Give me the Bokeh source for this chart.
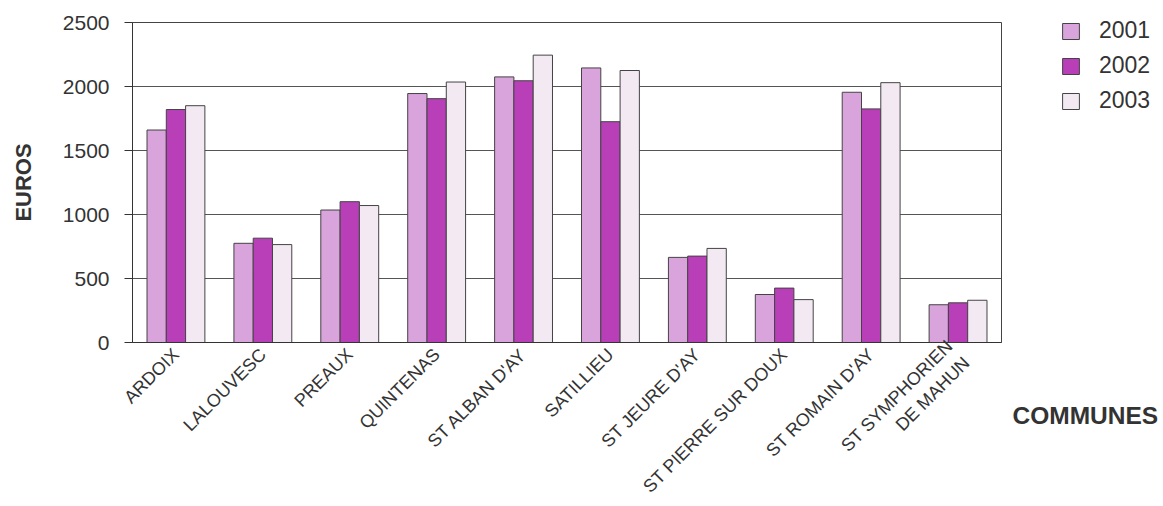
import math
from bokeh.plotting import figure
from bokeh.layouts import row
from bokeh.models import (ColumnDataSource, FactorRange, Range1d, Legend, LegendItem,
                          Label, SingleIntervalTicker)
from bokeh.transform import dodge
from bokeh.embed import file_html
from bokeh.resources import INLINE

communes = ["ARDOIX", "LALOUVESC", "PREAUX", "QUINTENAS", "ST ALBAN D'AY", "SATILLIEU",
            "ST JEURE D'AY", "ST PIERRE SUR DOUX", "ST ROMAIN D'AY", "ST SYMPHORIEN\nDE MAHUN"]
years = ["2001", "2002", "2003"]
v2001 = [1660, 775, 1035, 1945, 2075, 2145, 665, 375, 1955, 295]
v2002 = [1820, 815, 1100, 1905, 2045, 1725, 675, 425, 1825, 310]
v2003 = [1850, 765, 1070, 2035, 2245, 2125, 735, 335, 2030, 330]
colors = ["#d9a3dc", "#b83fb8", "#f3e9f3"]

src = ColumnDataSource(dict(commune=communes, y2001=v2001, y2002=v2002, y2003=v2003))

FONT = "Liberation Sans"
TXT = "#333333"
EDGE = "#444444"

# ---- main chart ----
p = figure(x_range=FactorRange(*communes), y_range=Range1d(0, 2500),
           width=1008, height=506, output_backend="svg", toolbar_location=None,
           min_border_left=132, min_border_top=22, min_border_bottom=164, min_border_right=7)
p.background_fill_color = "white"
p.border_fill_color = "white"
p.outline_line_color = EDGE
p.outline_line_width = 1

p.xgrid.grid_line_color = None
p.ygrid.grid_line_color = "#555555"
p.ygrid.grid_line_width = 1
p.yaxis.ticker = SingleIntervalTicker(interval=500)

p.yaxis.axis_line_color = "#333333"
p.yaxis.major_tick_line_color = "#333333"
p.yaxis.major_tick_out = 8
p.yaxis.major_tick_in = 0
p.yaxis.minor_tick_line_color = None
p.yaxis.major_label_text_font = FONT
p.yaxis.major_label_text_font_size = "21px"
p.yaxis.major_label_text_color = TXT
p.yaxis.major_label_standoff = 15
p.yaxis.axis_label = "EUROS"
p.yaxis.axis_label_text_font = FONT
p.yaxis.axis_label_text_font_size = "22px"
p.yaxis.axis_label_text_font_style = "bold"
p.yaxis.axis_label_text_color = TXT
p.yaxis.axis_label_standoff = 24

p.xaxis.axis_line_color = "#333333"
p.xaxis.major_tick_line_color = None
p.xaxis.minor_tick_line_color = None
p.xaxis.major_label_orientation = math.pi / 4
p.xaxis.major_label_text_font = FONT
p.xaxis.major_label_text_font_size = "18px"
p.xaxis.major_label_text_color = TXT
p.xaxis.major_label_standoff = 3

w = 0.222
for i, (yr, col) in enumerate(zip(years, colors)):
    p.vbar(x=dodge("commune", (i - 1) * w, range=p.x_range), top="y" + yr, width=w,
           source=src, fill_color=col, line_color=EDGE, line_width=1)

# ---- side panel: legend and x-axis title ----
s = figure(width=155, height=506, output_backend="svg", toolbar_location=None,
           x_range=Range1d(0, 1), y_range=Range1d(0, 1),
           x_axis_type=None, y_axis_type=None, min_border=0)
s.frame_align = False
s.outline_line_color = None
s.xgrid.grid_line_color = None
s.ygrid.grid_line_color = None
s.background_fill_color = "white"
s.border_fill_color = "white"

# off-screen placeholder bars so the legend swatches carry the series styling
dummy = ColumnDataSource(dict(x=[-10.0], top=[-10.0]))
swatches = [s.vbar(x="x", top="top", width=0.1, source=dummy, fill_color=col,
                   line_color=EDGE, line_width=1) for col in colors]

legend = Legend(items=[LegendItem(label=yr, renderers=[r]) for yr, r in zip(years, swatches)],
                location=(52, 392), orientation="vertical",
                glyph_width=21, glyph_height=20, label_height=26, spacing=8,
                label_standoff=18, padding=0, margin=0,
                border_line_color=None, background_fill_alpha=0,
                label_text_font=FONT, label_text_font_size="23px", label_text_color=TXT)
s.add_layout(legend)

s.add_layout(Label(x=4, y=78, x_units="screen", y_units="screen", text="COMMUNES",
                   text_font=FONT, text_font_size="24.5px", text_font_style="bold",
                   text_color=TXT))

open("out.html", "w").write(file_html(row(p, s), INLINE))
